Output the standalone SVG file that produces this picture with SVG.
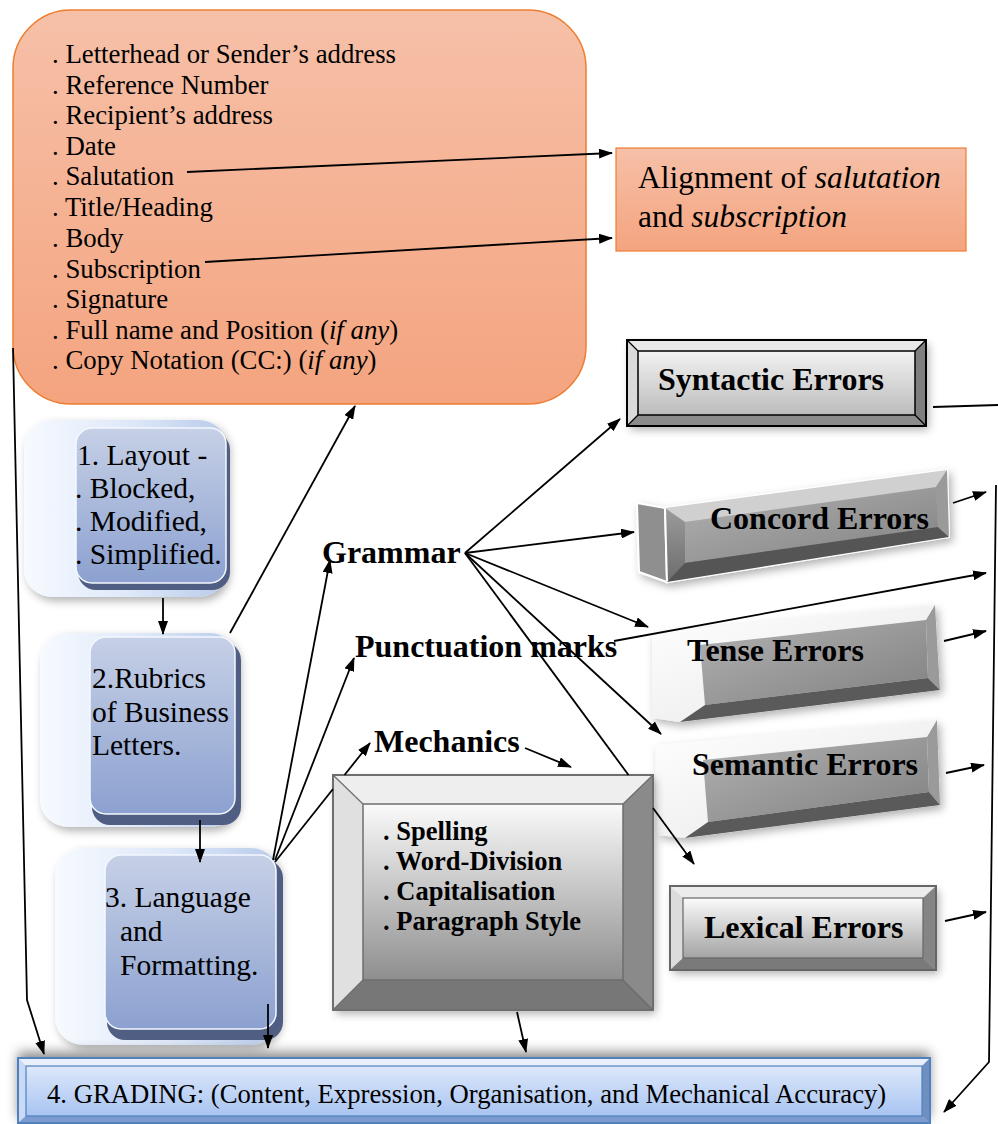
<svg xmlns="http://www.w3.org/2000/svg" width="998" height="1124" viewBox="0 0 998 1124" font-family="'Liberation Serif', 'Times New Roman', serif">
<style>
text{font-family:'Liberation Serif','Times New Roman',serif;fill:#000}
.lst{font-size:26.8px}
.bold{font-weight:bold}
.big{font-size:32px}
.blu{font-size:29.5px}
.c{stroke:#000;stroke-width:1.8;fill:none}
.a{marker-end:url(#ah)}
</style>
<defs>
<marker id="ah" viewBox="0 0 14 10" refX="13" refY="5" markerWidth="14" markerHeight="10" markerUnits="userSpaceOnUse" orient="auto"><path d="M0,0 L14,5 L0,10 z" fill="#000"/></marker>
<linearGradient id="gOr" x1="0" y1="0" x2="0" y2="1"><stop offset="0" stop-color="#f6c0a8"/><stop offset="1" stop-color="#f4a47f"/></linearGradient>
<linearGradient id="gBlueFront" x1="0" y1="0" x2="0" y2="1"><stop offset="0" stop-color="#c6d0e6"/><stop offset="1" stop-color="#8ca1d0"/></linearGradient>
<linearGradient id="gBlueSide" x1="0" y1="0" x2="1" y2="0"><stop offset="0" stop-color="#f7faff"/><stop offset="0.5" stop-color="#dfe9f9"/><stop offset="1" stop-color="#b9cbea"/></linearGradient>
<linearGradient id="gGrade" x1="0" y1="0" x2="0" y2="1"><stop offset="0" stop-color="#dde8fb"/><stop offset="1" stop-color="#a8c4f1"/></linearGradient>
<linearGradient id="gGreyIn" x1="0" y1="0" x2="0" y2="1"><stop offset="0" stop-color="#fbfbfb"/><stop offset="1" stop-color="#a3a3a3"/></linearGradient>
<linearGradient id="gSynIn" x1="0" y1="0" x2="0" y2="1"><stop offset="0" stop-color="#f2f2f2"/><stop offset="1" stop-color="#bcbcbc"/></linearGradient>
<linearGradient id="gMech" x1="0" y1="0" x2="0" y2="1"><stop offset="0" stop-color="#fafafa"/><stop offset="1" stop-color="#8e8e8e"/></linearGradient>
<linearGradient id="gSlab" x1="0" y1="0" x2="0" y2="1"><stop offset="0" stop-color="#b4b4b4"/><stop offset="1" stop-color="#6c6c6c"/></linearGradient>
<linearGradient id="gSlabIn" x1="0" y1="0" x2="1" y2="1"><stop offset="0" stop-color="#b2b2b2"/><stop offset="1" stop-color="#808080"/></linearGradient>
<linearGradient id="gWhiteFace" x1="0" y1="0" x2="1" y2="1"><stop offset="0" stop-color="#ffffff"/><stop offset="1" stop-color="#e6e6e6"/></linearGradient>
<filter id="sh" x="-20%" y="-20%" width="140%" height="140%"><feDropShadow dx="3" dy="4" stdDeviation="4" flood-color="#000" flood-opacity="0.3"/></filter>
<filter id="shUp" x="-10%" y="-80%" width="120%" height="200%"><feDropShadow dx="0" dy="-6" stdDeviation="6" flood-color="#000" flood-opacity="0.45"/></filter>
</defs>

<g id="letter-parts">
<rect x="13" y="10" width="573" height="394" rx="58" fill="url(#gOr)" stroke="#ed7d31" stroke-width="1.5"/>
<text class="lst">
<tspan x="52" y="63">. Letterhead or Sender’s address</tspan>
<tspan x="52" y="94">. Reference Number</tspan>
<tspan x="52" y="124">. Recipient’s address</tspan>
<tspan x="52" y="155">. Date</tspan>
<tspan x="52" y="185">. Salutation</tspan>
<tspan x="52" y="216">. Title/Heading</tspan>
<tspan x="52" y="247">. Body</tspan>
<tspan x="52" y="278">. Subscription</tspan>
<tspan x="52" y="308">. Signature</tspan>
<tspan x="52" y="339">. Full name and Position (<tspan font-style="italic">if any</tspan>)</tspan>
<tspan x="52" y="369">. Copy Notation (CC:) (<tspan font-style="italic">if any</tspan>)</tspan>
</text>
</g>

<g id="alignment">
<rect x="616" y="148" width="350" height="103" fill="url(#gOr)" stroke="#ed7d31" stroke-width="1.2"/>
<text font-size="31.5" x="638" y="188">Alignment of <tspan font-style="italic">salutation</tspan></text>
<text font-size="31.5" x="638" y="227">and <tspan font-style="italic">subscription</tspan></text>
</g>

<g id="syntactic">
<g filter="url(#sh)">
<polygon points="627,340 926,340 915,351 638,351" fill="#e8e8e8"/>
<polygon points="627,340 638,351 638,415 627,426" fill="#dadada"/>
<polygon points="926,340 926,426 915,415 915,351" fill="#7f7f7f"/>
<polygon points="627,426 638,415 915,415 926,426" fill="#8c8c8c"/>
</g>
<rect x="638" y="351" width="277" height="64" fill="url(#gSynIn)" stroke="#000" stroke-width="1.5"/>
<rect x="627" y="340" width="299" height="86" fill="none" stroke="#000" stroke-width="2"/>
<line x1="627" y1="340" x2="638" y2="351" stroke="#000" stroke-width="1.2"/>
<line x1="926" y1="340" x2="915" y2="351" stroke="#000" stroke-width="1.2"/>
<line x1="627" y1="426" x2="638" y2="415" stroke="#000" stroke-width="1.2"/>
<line x1="926" y1="426" x2="915" y2="415" stroke="#000" stroke-width="1.2"/>
<text class="bold big" x="658" y="390">Syntactic Errors</text>
</g>

<g id="concord">
<g filter="url(#sh)">
<polygon points="637,503 665,508 667,582 639,572" fill="#8f8f8f" stroke="#fff" stroke-width="2"/>
<polygon points="665,508 947,470 949,537 667,582" fill="url(#gSlab)" stroke="#fff" stroke-width="2"/>
</g>
<polygon points="685,522 936,487 938,527 685,563" fill="url(#gSlabIn)"/>
<polygon points="665,508 947,470 936,487 685,522" fill="#d0d0d0"/>
<polygon points="667,582 685,563 938,527 949,537" fill="#555"/>
<polygon points="936,487 947,470 949,537 938,527" fill="#9a9a9a"/>
<text class="bold big" x="710" y="529">Concord Errors</text>
</g>

<g id="tense">
<polygon points="652,633 935,605 940,690 680,722 652,718" fill="url(#gWhiteFace)" filter="url(#sh)"/>
<polygon points="700,645 926,620 928,678 705,705" fill="url(#gSlabIn)"/>
<polygon points="926,620 935,605 940,690 928,678" fill="#9a9a9a"/>
<polygon points="680,722 705,705 928,678 940,690" fill="#5a5a5a"/>
<text class="bold big" x="687" y="661">Tense Errors</text>
</g>

<g id="semantic">
<polygon points="655,745 937,720 940,805 685,838 658,835" fill="url(#gWhiteFace)" filter="url(#sh)"/>
<polygon points="703,760 927,737 929,792 708,822" fill="url(#gSlabIn)"/>
<polygon points="927,737 937,720 940,805 929,792" fill="#9a9a9a"/>
<polygon points="685,838 708,822 929,792 940,805" fill="#5a5a5a"/>
<text class="bold big" x="692" y="775">Semantic Errors</text>
</g>

<g id="lexical">
<g filter="url(#sh)">
<polygon points="670,886 936,886 923,898 683,898" fill="#ececec"/>
<polygon points="670,886 683,898 683,958 670,970" fill="#dcdcdc"/>
<polygon points="936,886 936,970 923,958 923,898" fill="#858585"/>
<polygon points="670,970 683,958 923,958 936,970" fill="#7a7a7a"/>
</g>
<rect x="683" y="898" width="240" height="60" fill="url(#gGreyIn)" stroke="#666" stroke-width="1.2"/>
<rect x="670" y="886" width="266" height="84" fill="none" stroke="#666" stroke-width="2"/>
<text class="bold big" x="704" y="938">Lexical Errors</text>
</g>

<g id="mechanics-box">
<g filter="url(#sh)">
<polygon points="333,775 653,775 623,804 363,804" fill="#eeeeee"/>
<polygon points="333,775 363,804 363,980 333,1010" fill="#e0e0e0"/>
<polygon points="653,775 653,1010 623,980 623,804" fill="#8a8a8a"/>
<polygon points="333,1010 363,980 623,980 653,1010" fill="#777"/>
</g>
<rect x="363" y="804" width="260" height="176" fill="url(#gMech)" stroke="#6e6e6e" stroke-width="1.5"/>
<rect x="333" y="775" width="320" height="235" fill="none" stroke="#6e6e6e" stroke-width="2"/>
<g stroke="#6e6e6e" stroke-width="1.2">
<line x1="333" y1="775" x2="363" y2="804"/><line x1="653" y1="775" x2="623" y2="804"/>
<line x1="333" y1="1010" x2="363" y2="980"/><line x1="653" y1="1010" x2="623" y2="980"/>
</g>
<text class="bold" font-size="26.5">
<tspan x="383" y="840">. Spelling</tspan>
<tspan x="383" y="870">. Word-Division</tspan>
<tspan x="383" y="900">. Capitalisation</tspan>
<tspan x="383" y="930">. Paragraph Style</tspan>
</text>
</g>

<g id="layout">
<rect x="24" y="420" width="203" height="177" rx="28" fill="url(#gBlueSide)" filter="url(#sh)"/>
<rect x="78" y="432" width="152" height="158" rx="18" fill="#4f5e82"/>
<rect x="76" y="428" width="150" height="155" rx="16" fill="url(#gBlueFront)" stroke="#f4f8ff" stroke-width="1.5"/>
<text class="blu">
<tspan x="77" y="465">1. Layout -</tspan>
<tspan x="75" y="498">. Blocked,</tspan>
<tspan x="75" y="531">. Modified,</tspan>
<tspan x="75" y="564">. Simplified.</tspan>
</text>
</g>

<g id="rubrics">
<rect x="40" y="633" width="198" height="194" rx="28" fill="url(#gBlueSide)" filter="url(#sh)"/>
<rect x="92" y="642" width="149" height="183" rx="18" fill="#4f5e82"/>
<rect x="90" y="637" width="145" height="177" rx="16" fill="url(#gBlueFront)" stroke="#f4f8ff" stroke-width="1.5"/>
<text class="blu">
<tspan x="92" y="688">2.Rubrics</tspan>
<tspan x="92" y="722">of Business</tspan>
<tspan x="92" y="755">Letters.</tspan>
</text>
</g>

<g id="language">
<rect x="55" y="848" width="224" height="197" rx="28" fill="url(#gBlueSide)" filter="url(#sh)"/>
<rect x="107" y="860" width="176" height="180" rx="18" fill="#4f5e82"/>
<rect x="105" y="855" width="171" height="174" rx="16" fill="url(#gBlueFront)" stroke="#f4f8ff" stroke-width="1.5"/>
<text class="blu">
<tspan x="105" y="907">3. Language</tspan>
<tspan x="120" y="941">and</tspan>
<tspan x="120" y="975">Formatting.</tspan>
</text>
</g>

<g id="grading">
<g filter="url(#shUp)">
<rect x="18" y="1058" width="912" height="66" fill="url(#gGrade)"/>
</g>
<polygon points="18,1058 930,1058 922,1066 26,1066" fill="#e9f0fc"/>
<polygon points="18,1058 26,1066 26,1116 18,1123" fill="#c9daf6"/>
<polygon points="930,1058 930,1123 922,1116 922,1066" fill="#6f8fc0"/>
<polygon points="18,1123 26,1116 922,1116 930,1123" fill="#7b9bd0"/>
<rect x="26" y="1066" width="896" height="50" fill="url(#gGrade)" stroke="#4f81bd" stroke-width="1.2"/>
<rect x="18" y="1058" width="912" height="65" fill="none" stroke="#4f81bd" stroke-width="2"/>
<text font-size="26.7" x="47" y="1103">4. GRADING: (Content, Expression, Organisation, and Mechanical Accuracy)</text>
</g>

<g id="grammar-label"><text class="bold big" x="322" y="563">Grammar</text></g>
<g id="punctuation-label"><text class="bold big" x="355" y="657">Punctuation marks</text></g>
<g id="mechanics-label"><text class="bold big" x="374" y="752">Mechanics</text></g>

<g id="connectors">
<path class="c a" d="M187,172 L612,153"/>
<path class="c a" d="M205,262 L612,238"/>
<path class="c a" d="M163,598 L163,634"/>
<path class="c a" d="M200,820 L200,862"/>
<path class="c a" d="M268,1004 L268,1048"/>
<path class="c a" d="M517,1012 L526,1052"/>
<path class="c a" d="M13,348 L27,1000 L44,1054"/>
<path class="c a" d="M230,633 L355,406"/>
<path class="c a" d="M273,860 L330,560"/>
<path class="c a" d="M275,860 L354,658"/>
<path class="c" d="M275,862 L333,789"/>
<path class="c a" d="M344.5,775 L370,743"/>
<path class="c a" d="M465,553 L620,419"/>
<path class="c a" d="M465,553 L634,532"/>
<path class="c a" d="M465,553 L648,627"/>
<path class="c a" d="M465,553 L661,734"/>
<path class="c" d="M465,553 L628.5,775"/>
<path class="c a" d="M653,808 L694,864"/>
<path class="c a" d="M614,641 L986,573"/>
<path class="c a" d="M525,748 L571,767"/>
<path class="c a" d="M953,503 L986,492"/>
<path class="c a" d="M944,641 L986,631"/>
<path class="c a" d="M946,773 L984,765"/>
<path class="c a" d="M945,921 L986,912"/>
<path class="c" d="M933,407 L998,405"/>
<path class="c a" d="M996,485 L989,1062 L944,1112"/>
</g>
</svg>
